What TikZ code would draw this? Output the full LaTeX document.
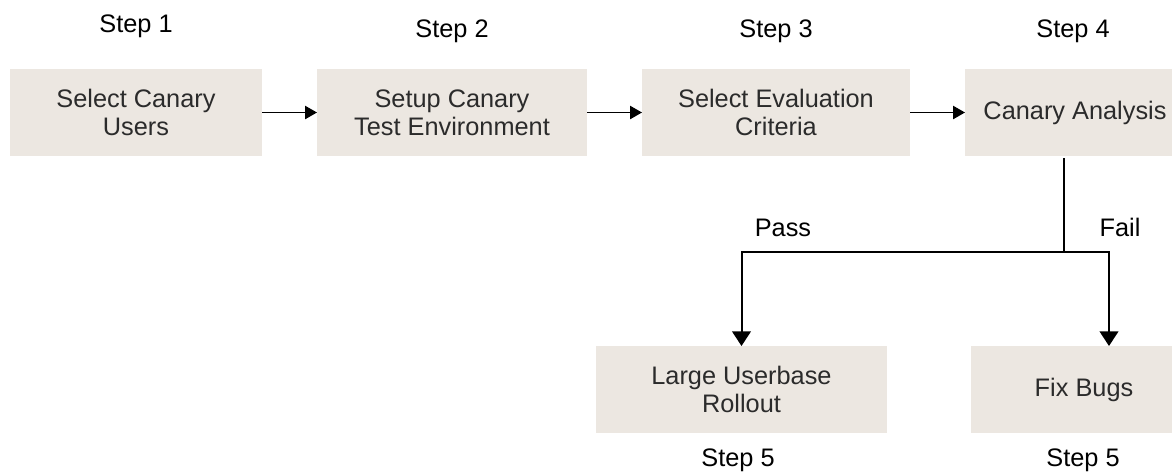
\documentclass[tikz,border=0pt]{standalone}
\usepackage{fontspec}
\setmainfont{Liberation Sans}
\usepackage{tikz}
\usetikzlibrary{positioning, arrows.meta}
\usepackage{xcolor}
\definecolor{boxfill}{HTML}{ECE7E1}
\definecolor{boxtext}{HTML}{2B2B2B}
\newcommand{\stagefont}{\fontsize{19}{21}\selectfont}
\tikzset{
	->,
	node distance=41.25pt,
	>={Triangle[length=9pt,width=10pt]},
	stage/.style={fill=boxfill, text=boxtext, font=\stagefont, align=center,
		minimum height=65.25pt, inner sep=0pt, outer sep=0pt},
	steplabel/.style={font=\stagefont, text=black, anchor=base},
	branch/.style={line width=1.5pt, >={Triangle[length=11pt,width=14pt]}}}

\begin{document}
\begin{tikzpicture}[x=0.75pt,y=-0.75pt]
		\useasboundingbox (0,0) rectangle (1172,472);
		
		\node[stage, minimum width=189pt] (b1) at (136,112.5) {Select Canary\\Users};
		\node[stage, minimum width=202.5pt, right=of b1] (b2) {Setup Canary\\Test Environment};
		\node[stage, minimum width=201pt, right=of b2] (b3) {Select Evaluation\\Criteria};
		\node[stage, minimum width=165pt, right=of b3] (b4) {Canary Analysis};
		\node[stage, minimum width=218.25pt] (b5) at (741.5,389.5) {Large Userbase\\Rollout};
		\node[stage, minimum width=169.5pt] (b6) at (1084,389.5) {Fix Bugs};
		
		\node[steplabel] (s1) at (136,32) {Step 1};
		\node[steplabel] (s2) at (452,37) {Step 2};
		\node[steplabel] (s3) at (776,37) {Step 3};
		\node[steplabel] (s4) at (1073,37) {Step 4};
		\node[steplabel] (s5a) at (738,466) {Step 5};
		\node[steplabel] (s5b) at (1083,466) {Step 5};
		\node[steplabel] (pass) at (783,236) {Pass};
		\node[steplabel] (fail) at (1120,236) {Fail};
		
		\coordinate (split) at (1064,252);
		\coordinate (passturn) at (741.5,252);
		\coordinate (failturn) at (1109,252);
		
		\draw[line width=1.1pt]
		(b1) edge (b2)
		(b2) edge (b3)
		(b3) edge (b4)
		;
		
		\draw[branch, -, shorten <=1.5pt] (b4.south -| split) -- (split);
		\draw[branch] (split) -- (passturn) -- (b5.north);
		\draw[branch] (split) -- (failturn) -- (b6.north -| failturn);
		
	\end{tikzpicture}
\end{document}
